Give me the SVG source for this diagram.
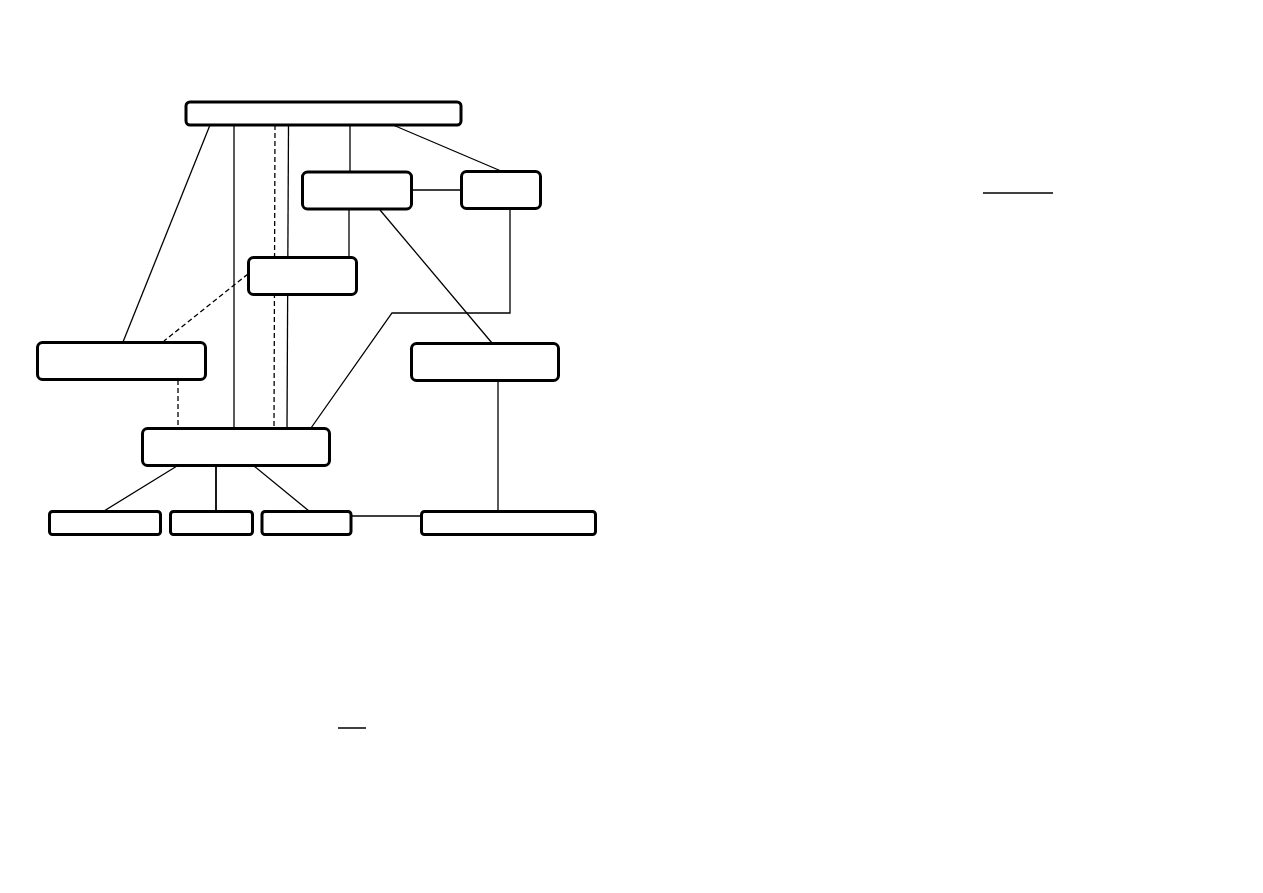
<svg xmlns="http://www.w3.org/2000/svg" width="1263" height="893" viewBox="0 0 1263 893">
<style>
.n{fill:#fff;stroke:#000;stroke-width:3}
.e{fill:none;stroke:#000;stroke-width:1.3}
.d{fill:none;stroke:#000;stroke-width:1.3;stroke-dasharray:5 3}
</style>
<rect width="1263" height="893" fill="#fff"/>
<g id="connectors">
<line class="e" x1="210" y1="125" x2="123" y2="342"/>
<line class="e" x1="234" y1="125" x2="234" y2="428"/>
<line class="d" x1="275" y1="125" x2="274" y2="428"/>
<line class="e" x1="288.5" y1="125" x2="287" y2="428"/>
<line class="e" x1="350" y1="125" x2="350" y2="172"/>
<line class="e" x1="393" y1="125" x2="501" y2="171"/>
<line class="e" x1="412" y1="190" x2="461" y2="190"/>
<line class="e" x1="349" y1="210" x2="349" y2="257"/>
<line class="e" x1="380" y1="210" x2="492" y2="343"/>
<polyline class="e" points="510,209 510,313 392,313 311,428"/>
<line class="d" x1="248" y1="274" x2="164" y2="341"/>
<line class="d" x1="178" y1="380" x2="178" y2="428"/>
<line class="e" x1="177" y1="466" x2="104" y2="511"/>
<line class="e" x1="216" y1="466" x2="216" y2="511" style="stroke-width:1.8"/>
<line class="e" x1="254" y1="466" x2="309" y2="511"/>
<line class="e" x1="351" y1="516" x2="421" y2="516"/>
<line class="e" x1="498" y1="381" x2="498" y2="511"/>
<line class="e" x1="983" y1="193" x2="1053" y2="193" style="stroke-width:1.5"/>
<line class="e" x1="338" y1="728" x2="366" y2="728" style="stroke-width:1.5"/>
</g>
<g id="top"><rect class="n" x="186" y="102" width="275" height="23" rx="4"/></g>
<g id="a"><rect class="n" x="302.5" y="172" width="109" height="37" rx="5"/></g>
<g id="b"><rect class="n" x="461.5" y="171.5" width="79" height="37" rx="5"/></g>
<g id="mid"><rect class="n" x="248.5" y="257.5" width="108" height="37" rx="5"/></g>
<g id="left"><rect class="n" x="37.5" y="342.5" width="168" height="37" rx="5"/></g>
<g id="right"><rect class="n" x="411.5" y="343.5" width="147" height="37" rx="5"/></g>
<g id="center"><rect class="n" x="142.5" y="428.5" width="187" height="37" rx="5"/></g>
<g id="b1"><rect class="n" x="49.5" y="511.5" width="111" height="23" rx="3"/></g>
<g id="b2"><rect class="n" x="170.5" y="511.5" width="82" height="23" rx="3"/></g>
<g id="b3"><rect class="n" x="262" y="511.5" width="89" height="23" rx="3"/></g>
<g id="b4"><rect class="n" x="421.5" y="511.5" width="174" height="23" rx="3"/></g>
</svg>
